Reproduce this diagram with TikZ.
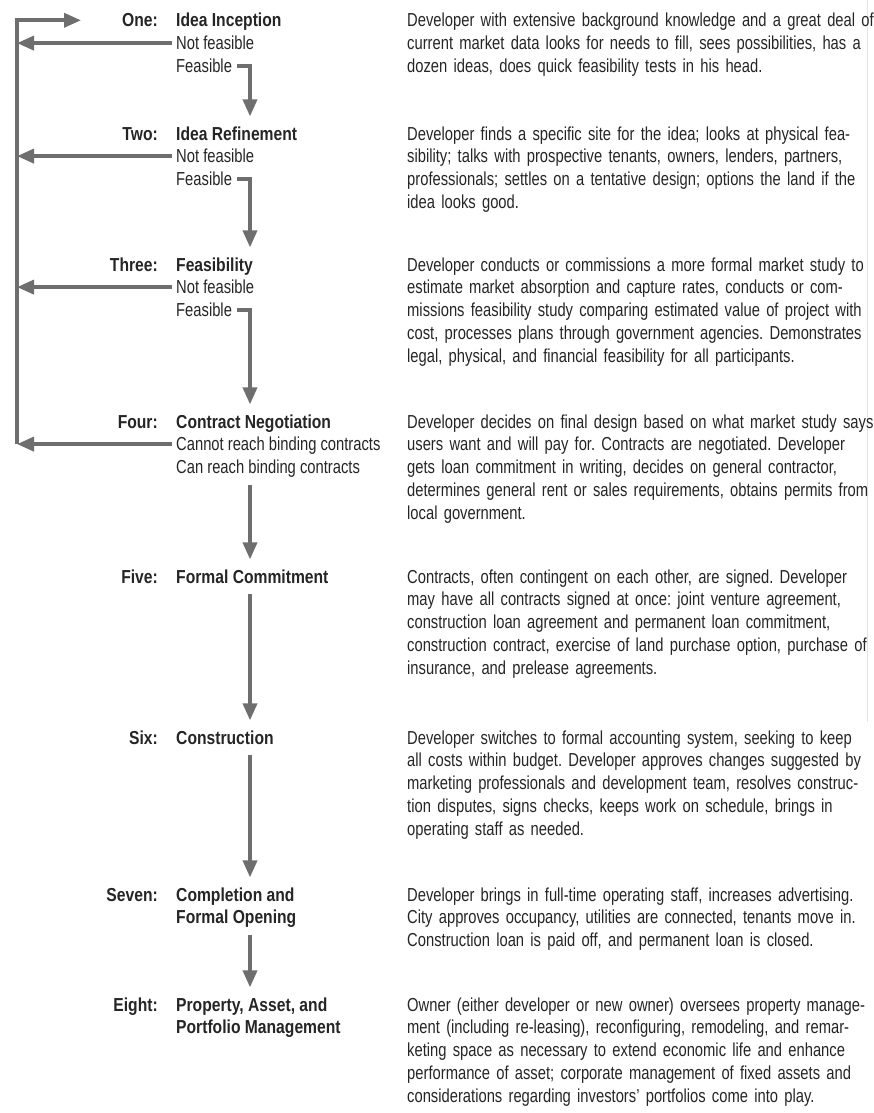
\documentclass[tikz,border=0pt]{standalone}
\usepackage{fontspec}
\setmainfont{Liberation Sans}[UprightFeatures={FakeStretch=0.785},BoldFeatures={FakeStretch=0.833}]
\usetikzlibrary{arrows.meta,calc}
\definecolor{ink}{HTML}{252525}
\definecolor{flowgray}{HTML}{6E6E6E}
\definecolor{pageedge}{HTML}{E4E4E4}

\begin{document}
\frenchspacing
\begin{tikzpicture}[x=1pt,y=-1pt,
  txt/.style={inner sep=0pt, text=ink, font=\fontsize{18.8}{22.8}\selectfont,
    text height=13.4pt, text depth=0pt},
  lbl/.style={txt, font=\fontsize{18.8}{22.8}\selectfont\bfseries, anchor=base east},
  ttl/.style={txt, font=\fontsize{18.8}{22.8}\selectfont\bfseries, anchor=base west},
  sub/.style={txt, anchor=base west},
  desc/.style={inner sep=0pt, text=ink, font=\fontsize{18.8}{22.8}\selectfont,
    anchor=base west, text width=500pt, align=left},
  flow/.style={draw=flowgray, line width=3.6pt, line join=miter},
  tip/.style={flow, -{Triangle[length=17pt,width=14pt]}},
]
\useasboundingbox (0,0) rectangle (873,1113);

% faint page edge on the right
\draw[pageedge, line width=1pt] (867,0) -- (867,722);

% guide coordinates for the feedback rail and the main spine
\coordinate (rail) at (17,0);
\coordinate (spine) at (250,0);
\coordinate (toptip) at (81,0);

% ---- One
\node[lbl] (l1) at (158,27) {One:};
\node[ttl] (t1) at (176,27) {Idea Inception};
\node[sub] (n1) at (176,49.8) {Not feasible};
\node[sub] (f1) at (176,72.6) {Feasible};
\node[desc] (d1) at (407,27) {Developer with extensive background knowledge and a great deal of\\
current market data looks for needs to fill, sees possibilities, has a\\
dozen ideas, does quick feasibility tests in his head.};

% ---- Two
\node[lbl] (l2) at (158,140) {Two:};
\node[ttl] (t2) at (176,140) {Idea Refinement};
\node[sub] (n2) at (176,162.8) {Not feasible};
\node[sub] (f2) at (176,185.6) {Feasible};
\node[desc] (d2) at (407,140) {Developer finds a specific site for the idea; looks at physical fea-\\
sibility; talks with prospective tenants, owners, lenders, partners,\\
professionals; settles on a tentative design; options the land if the\\
idea looks good.};

% ---- Three
\node[lbl] (l3) at (158,271) {Three:};
\node[ttl] (t3) at (176,271) {Feasibility};
\node[sub] (n3) at (176,293.8) {Not feasible};
\node[sub] (f3) at (176,316.6) {Feasible};
\node[desc] (d3) at (407,271) {Developer conducts or commissions a more formal market study to\\
estimate market absorption and capture rates, conducts or com-\\
missions feasibility study comparing estimated value of project with\\
cost, processes plans through government agencies. Demonstrates\\
legal, physical, and financial feasibility for all participants.};

% ---- Four
\node[lbl] (l4) at (158,428) {Four:};
\node[ttl] (t4) at (176,428) {Contract Negotiation};
\node[sub] (n4) at (176,450.8) {Cannot reach binding contracts};
\node[sub] (f4) at (176,473.6) {Can reach binding contracts};
\node[desc] (d4) at (407,428) {Developer decides on final design based on what market study says\\
users want and will pay for. Contracts are negotiated. Developer\\
gets loan commitment in writing, decides on general contractor,\\
determines general rent or sales requirements, obtains permits from\\
local government.};

% ---- Five
\node[lbl] (l5) at (158,583) {Five:};
\node[ttl] (t5) at (176,583) {Formal Commitment};
\node[desc] (d5) at (407,583) {Contracts, often contingent on each other, are signed. Developer\\
may have all contracts signed at once: joint venture agreement,\\
construction loan agreement and permanent loan commitment,\\
construction contract, exercise of land purchase option, purchase of\\
insurance, and prelease agreements.};

% ---- Six
\node[lbl] (l6) at (158,744) {Six:};
\node[ttl] (t6) at (176,744) {Construction};
\node[desc] (d6) at (407,744) {Developer switches to formal accounting system, seeking to keep\\
all costs within budget. Developer approves changes suggested by\\
marketing professionals and development team, resolves construc-\\
tion disputes, signs checks, keeps work on schedule, brings in\\
operating staff as needed.};

% ---- Seven
\node[lbl] (l7) at (158,901) {Seven:};
\node[ttl] (t7) at (176,901) {Completion and};
\node[ttl] (t7b) at (176,923.8) {Formal Opening};
\node[desc] (d7) at (407,901) {Developer brings in full-time operating staff, increases advertising.\\
City approves occupancy, utilities are connected, tenants move in.\\
Construction loan is paid off, and permanent loan is closed.};

% ---- Eight
\node[lbl] (l8) at (158,1011) {Eight:};
\node[ttl] (t8) at (176,1011) {Property, Asset, and};
\node[ttl] (t8b) at (176,1033.8) {Portfolio Management};
\node[desc] (d8) at (407,1011) {Owner (either developer or new owner) oversees property manage-\\
ment (including re-leasing), reconfiguring, remodeling, and remar-\\
keting space as necessary to extend economic life and enhance\\
performance of asset; corporate management of fixed assets and\\
considerations regarding investors’ portfolios come into play.};

% ---- feedback rail back to stage one
\draw[tip] (n4.west -| rail) -- (l1.west -| rail) -- (l1.west -| toptip);
\foreach \n in {n1,n2,n3,n4}
  \draw[tip] ([xshift=-4pt]\n.west) -- (\n.west -| rail);

% ---- feasible hooks down to the next stage
\draw[tip] ([xshift=5pt]f1.east) -| ($(spine |- t2.north)+(0,-10)$);
\draw[tip] ([xshift=5pt]f2.east) -| ($(spine |- t3.north)+(0,-10)$);
\draw[tip] ([xshift=5pt]f3.east) -| ($(spine |- t4.north)+(0,-10)$);

% ---- straight steps
\draw[tip] ($(spine |- f4.south)+(0,11)$) -- ($(spine |- t5.north)+(0,-10)$);
\draw[tip] ($(spine |- t5.south)+(0,11)$) -- ($(spine |- t6.north)+(0,-10)$);
\draw[tip] ($(spine |- t6.south)+(0,11)$) -- ($(spine |- t7.north)+(0,-10)$);
\draw[tip] ($(spine |- t7b.south)+(0,11)$) -- ($(spine |- t8.north)+(0,-10)$);
\end{tikzpicture}
\end{document}
